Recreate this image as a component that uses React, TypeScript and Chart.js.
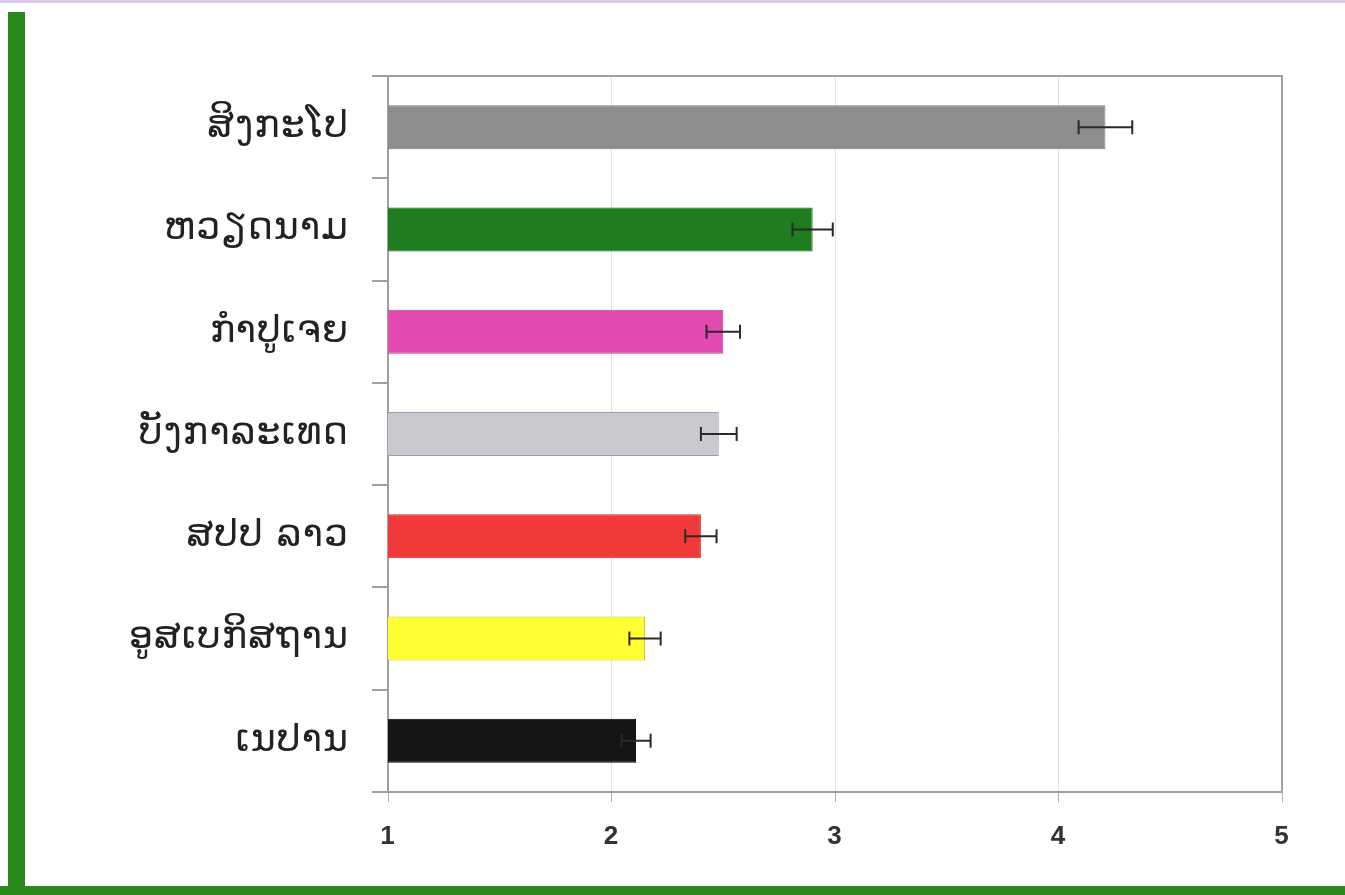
import React, { useEffect, useRef } from "react";
import { Chart, registerables } from "chart.js";

Chart.register(...registerables);

const categories = ["ສິງກະໂປ", "ຫວຽດນາມ", "ກຳປູເຈຍ", "ບັງກາລະເທດ", "ສປປ ລາວ", "ອູສເບກິສຖານ", "ເນປານ"];
const values = [4.21, 2.9, 2.5, 2.48, 2.4, 2.15, 2.11];
const errors = [0.12, 0.09, 0.075, 0.08, 0.07, 0.07, 0.065];
const barColors = ["#8d8d8d", "#1f7d1f", "#e24bb0", "#c9cacf", "#f2393a", "#ffff33", "#141414"];
const barBorders = ["#7a7a7a", "#17661a", "#c23a92", "#9a9aa8", "#c83030", "#c8c830", "#000000"];
const xTicks = [1, 2, 3, 4, 5];

const errorBarPlugin = {
  id: "errorBars",
  afterDatasetsDraw(chart: any) {
    const meta = chart.getDatasetMeta(0);
    const xs = chart.scales.x;
    const ctx = chart.ctx;
    ctx.save();
    ctx.strokeStyle = "#2a2a2a";
    ctx.lineWidth = 2;
    meta.data.forEach((el: any, i: number) => {
      const y = el.y;
      const x0 = xs.getPixelForValue(values[i] - errors[i]);
      const x1 = xs.getPixelForValue(values[i] + errors[i]);
      ctx.beginPath();
      ctx.moveTo(x0, y);
      ctx.lineTo(x1, y);
      ctx.moveTo(x0, y - 7);
      ctx.lineTo(x0, y + 7);
      ctx.moveTo(x1, y - 7);
      ctx.lineTo(x1, y + 7);
      ctx.stroke();
    });
    ctx.restore();
  },
};

const framePlugin = {
  id: "frame",
  beforeDraw(chart: any) {
    (chart.ctx as any).letterSpacing = "1px";
  },
  beforeDatasetsDraw(chart: any) {
    const { left, right, top, bottom } = chart.chartArea;
    const ctx = chart.ctx;
    ctx.save();
    ctx.strokeStyle = "#a0a0a0";
    ctx.lineWidth = 2;
    ctx.strokeRect(left, top, right - left, bottom - top);
    ctx.restore();
  },
  afterDraw(chart: any) {
    (chart.ctx as any).letterSpacing = "0px";
  },
};

export default function App() {
  const ref = useRef<HTMLCanvasElement | null>(null);
  useEffect(() => {
    if (!ref.current) return;
    const chart = new Chart(ref.current, {
      type: "bar",
      data: {
        labels: categories,
        datasets: [
          {
            data: values,
            backgroundColor: barColors,
            borderColor: barBorders,
            borderWidth: 1,
            barPercentage: 0.43,
            categoryPercentage: 1,
          },
        ],
      },
      options: {
        indexAxis: "y",
        responsive: false,
        animation: false,
        layout: { padding: { top: 76, right: 63, left: 0, bottom: 0 } },
        plugins: { legend: { display: false }, tooltip: { enabled: false } },
        scales: {
          x: {
            min: 1,
            max: 5,
            afterBuildTicks: (scale: any) => {
              scale.ticks = xTicks.map((v) => ({ value: v }));
            },
            afterFit: (scale: any) => {
              scale.height = 103;
            },
            grid: {
              color: "#e2e2e2",
              tickColor: "#b0b0b0",
              tickLength: 10,
              lineWidth: 1,
            },
            border: { color: "#a0a0a0", width: 2 },
            ticks: {
              padding: 19,
              color: "#333333",
              font: { family: "Arial, 'Liberation Sans', sans-serif", size: 26, weight: "bold" },
            },
          },
          y: {
            afterFit: (scale: any) => {
              scale.width = 388;
            },
            grid: {
              offset: true,
              drawOnChartArea: false,
              tickLength: 16,
              tickColor: "#a0a0a0",
              lineWidth: 2,
            },
            border: { color: "#a0a0a0", width: 2 },
            ticks: {
              padding: 23,
              color: "#222222",
              font: { family: "'DejaVu Sans', sans-serif", size: 38 },
            },
          },
        },
      },
      plugins: [framePlugin, errorBarPlugin],
    } as any);
    return () => chart.destroy();
  }, []);

  return (
    <div style={{ position: "fixed", left: 0, top: 0, width: 1345, height: 895, background: "#ffffff", overflow: "hidden" }}>
      <div style={{ position: "absolute", left: 0, top: 0, width: 1345, height: 3, background: "#dccbe8" }} />
      <div style={{ position: "absolute", left: 8, top: 12, width: 17, height: 883, background: "#2a8a1e" }} />
      <div style={{ position: "absolute", left: 0, top: 886, width: 1345, height: 9, background: "#2a8a1e" }} />
      <canvas ref={ref} width={1345} height={895} style={{ position: "absolute", left: 0, top: 0 }} />
    </div>
  );
}
